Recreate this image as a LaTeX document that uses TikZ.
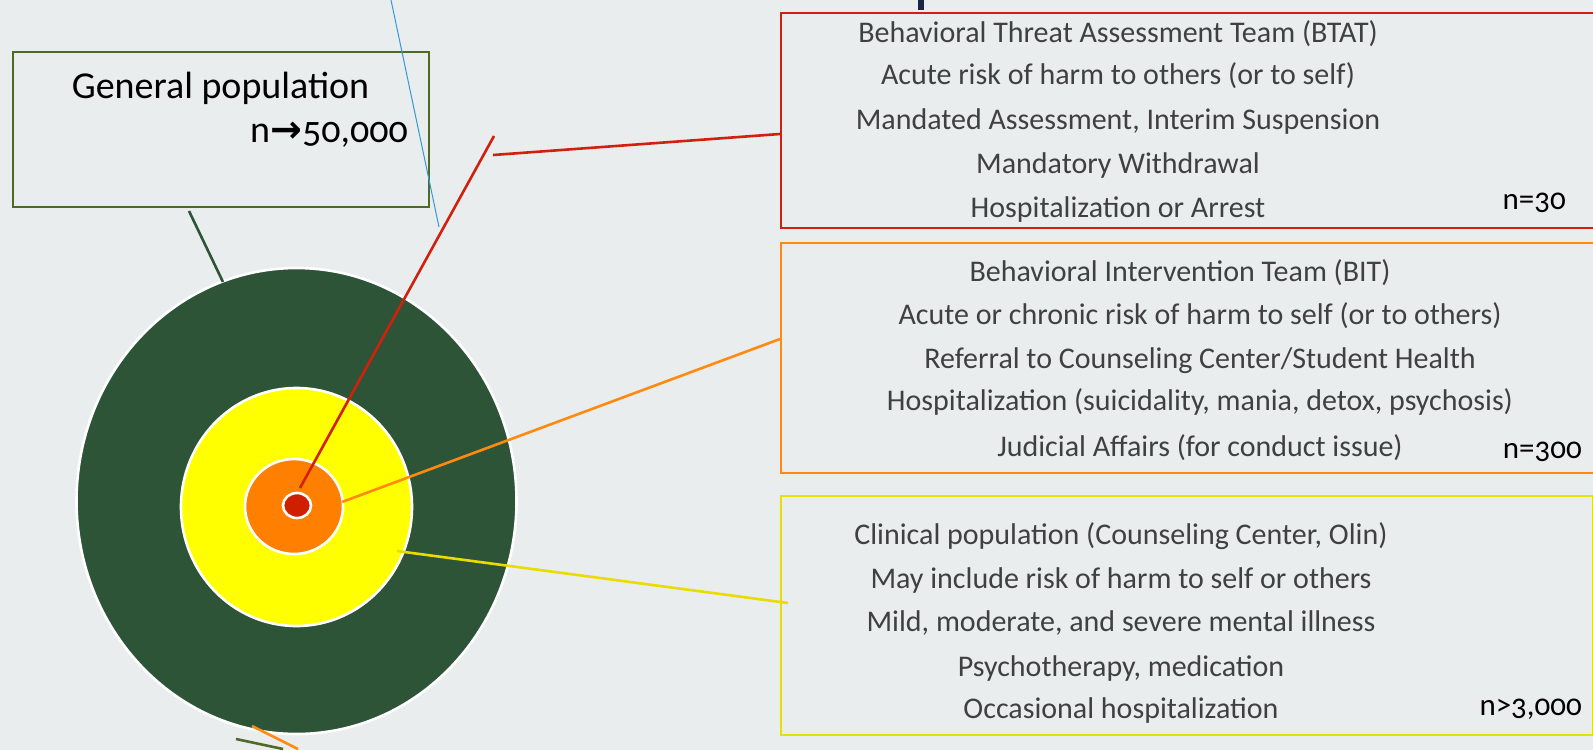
\documentclass[tikz,border=0pt]{standalone}
\usepackage{fontspec}
\setmainfont{Carlito}[Numbers=OldStyle]
\newfontfamily\arrowfont{DejaVu Sans}
\usetikzlibrary{shapes.geometric}
\definecolor{bg}{HTML}{E9EDEE}
\definecolor{darkgreen}{HTML}{2D5436}
\definecolor{olive}{HTML}{4F6A28}
\definecolor{ringyellow}{HTML}{FFFF00}
\definecolor{ringorange}{HTML}{FF8000}
\definecolor{dotred}{HTML}{D01F00}
\definecolor{boxred}{HTML}{D2200E}
\definecolor{boxorange}{HTML}{FF8A10}
\definecolor{boxyellow}{HTML}{E6E000}
\definecolor{lineyellow}{HTML}{E8DC00}
\definecolor{lineblue}{HTML}{3399D6}
\definecolor{textgray}{HTML}{404040}
\definecolor{navy}{HTML}{1C2444}
\tikzset{
  ring/.style={ellipse, draw=white, line width=2.6pt, inner sep=0pt},
  infobox/.style={draw, line width=2.2pt, fill=none, inner sep=0pt, anchor=north west},
  boxtext/.style={font=\fontsize{30}{34}\selectfont, text=textgray, inner sep=0pt, anchor=base},
  countlabel/.style={font=\fontsize{31}{36}\selectfont, text=black, inner sep=0pt, anchor=base east},
  conn/.style={line width=2.6pt},
}
\begin{document}
\begin{tikzpicture}[x=1pt,y=-1pt]
\useasboundingbox (0,0) rectangle (1593,750);
\fill[bg] (0,0) rectangle (1593,750);
% cut-off title mark
\fill[navy] (918,0) rectangle (924,10);

% general population box
\node[infobox, draw=olive, minimum width=416pt, minimum height=155pt] (gbox) at (12,51) {};
\node[font=\fontsize{38}{44}\selectfont, inner sep=0pt, anchor=base] (gtitle) at (220.5,98) {General population};
\node[font=\fontsize{38}{44}\selectfont, inner sep=0pt, anchor=base east] (gcount) at (408,142) {n{\arrowfont\bfseries →}50,000};

% target rings
\node[ring, fill=darkgreen, minimum width=440pt, minimum height=466pt] (outer) at (296.5,501) {};
\node[ring, fill=ringyellow, minimum width=231pt, minimum height=238pt] (yel) at (296.5,507) {};
\node[ring, fill=ringorange, minimum width=98pt, minimum height=95pt] (ora) at (294,506.5) {};
\node[ring, fill=dotred, minimum width=28pt, minimum height=25pt] (dot) at (297,505.5) {};

% boxes
\node[infobox, draw=boxred, minimum width=820pt, minimum height=215pt] (rbox) at (780,12) {};
\node[infobox, draw=boxorange, minimum width=820pt, minimum height=230pt] (obox) at (780,242) {};
\node[infobox, draw=boxyellow, minimum width=812pt, minimum height=239pt] (ybox) at (780,495) {};

% red box text
\node[boxtext] (r1) at (1118,42) {Behavioral Threat Assessment Team (BTAT)};
\node[boxtext] (r2) at (1118,84.5) {Acute risk of harm to others (or to self)};
\node[boxtext] (r3) at (1118,129.5) {Mandated Assessment, Interim Suspension};
\node[boxtext] (r4) at (1118,173) {Mandatory Withdrawal};
\node[boxtext] (r5) at (1118,217.5) {Hospitalization or Arrest};
\node[countlabel] (rn) at (1566,209) {n=30};

% orange box text
\node[boxtext] (o1) at (1180,281.5) {Behavioral Intervention Team (BIT)};
\node[boxtext] (o2) at (1200,324.5) {Acute or chronic risk of harm to self (or to others)};
\node[boxtext] (o3) at (1200,368.5) {Referral to Counseling Center/Student Health};
\node[boxtext] (o4) at (1200,410.5) {Hospitalization (suicidality, mania, detox, psychosis)};
\node[boxtext] (o5) at (1200,456.5) {Judicial Affairs (for conduct issue)};
\node[countlabel] (on) at (1582,458) {n=300};

% yellow box text
\node[boxtext] (y1) at (1121,544.5) {Clinical population (Counseling Center, Olin)};
\node[boxtext] (y2) at (1121,588.5) {May include risk of harm to self or others};
\node[boxtext] (y3) at (1121,631.5) {Mild, moderate, and severe mental illness};
\node[boxtext] (y4) at (1121,676.5) {Psychotherapy, medication};
\node[boxtext] (y5) at (1121,718.5) {Occasional hospitalization};
\node[countlabel] (yn) at (1582,715) {n>3,000};

% connector end points
\coordinate (redA) at (300,488);
\coordinate (redB) at (494,136);
\coordinate (redC) at (493,155);
\coordinate (redD) at (780,134);
\coordinate (oraA) at (342,502);
\coordinate (oraB) at (780,339);
\coordinate (yelA) at (397,551);
\coordinate (yelB) at (788,603);
\coordinate (grnA) at (189,211);
\coordinate (grnB) at (223,282);
\coordinate (bluA) at (391,0);
\coordinate (bluB) at (439,227);
\coordinate (botOA) at (252,726);
\coordinate (botOB) at (298,749);
\coordinate (botGA) at (236,739);
\coordinate (botGB) at (283,749);

\draw[conn, boxred] (redA) -- (redB);
\draw[conn, boxred] (redC) -- (redD);
\draw[conn, boxorange] (oraA) -- (oraB);
\draw[conn, lineyellow] (yelA) -- (yelB);
\draw[conn, darkgreen] (grnA) -- (grnB);
\draw[line width=1pt, lineblue] (bluA) -- (bluB);
\draw[conn, boxorange] (botOA) -- (botOB);
\draw[conn, olive] (botGA) -- (botGB);
\end{tikzpicture}
\end{document}
